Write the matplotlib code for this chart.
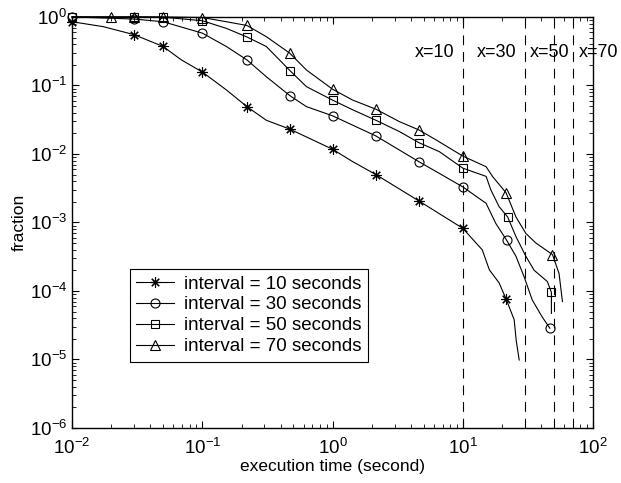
import numpy as np
import matplotlib
matplotlib.use("Agg")
import matplotlib.pyplot as plt

plt.rcParams['font.family'] = ['Liberation Sans', 'DejaVu Sans']
plt.rcParams['mathtext.fontset'] = 'custom'
plt.rcParams['mathtext.rm'] = 'Liberation Sans'
plt.rcParams['mathtext.it'] = 'Liberation Sans:italic'
plt.rcParams['lines.scale_dashes'] = False

# fraction of jobs still running after a given execution time
labels = ['interval = 10 seconds', 'interval = 30 seconds',
          'interval = 50 seconds', 'interval = 70 seconds']
# asterisk (plus and cross), circle, square, triangle
markers = [(8, 2, 0), 'o', 's', '^']
msizes = [7.5, 6.5, 6.0, 7.0]

x10 = [0.01, 0.0174, 0.03, 0.05, 0.069, 0.1, 0.153, 0.22, 0.31, 0.47, 1.0, 1.43,
       2.15, 4.6, 10, 14.1, 16.0, 19.0, 21.5, 24.8, 25.7, 27.1]
y10 = [0.85, 0.72, 0.55, 0.37, 0.236, 0.157, 0.086, 0.049, 0.031, 0.023, 0.0117, 0.0077,
       0.005, 0.00206, 0.00082, 3.98e-4, 2.03e-4, 1.31e-4, 7.6e-5, 3.8e-5, 1.9e-5, 9.8e-6]
m10 = [0.01, 0.03, 0.05, 0.1, 0.22, 0.47, 1.0, 2.15, 4.6, 10, 21.5]

x30 = [0.01, 0.03, 0.05, 0.1, 0.153, 0.22, 0.31, 0.47, 0.63, 1.0, 2.15, 3.26, 4.6,
       6.6, 10, 15.1, 17.9, 21.7, 25.6, 29.6, 34.1, 40.6, 46.6]
y30 = [1.0, 0.93, 0.85, 0.58, 0.37, 0.236, 0.134, 0.071, 0.049, 0.036, 0.0183, 0.0114, 0.0077,
       0.0052, 0.0033, 1.9e-3, 9.7e-4, 5.5e-4, 3.2e-4, 1.6e-4, 7.4e-5, 4.2e-5, 2.85e-5]
m30 = [0.01, 0.03, 0.05, 0.1, 0.22, 0.47, 1.0, 2.15, 4.6, 10, 21.7, 46.6]

x50 = [0.01, 0.03, 0.05, 0.1, 0.153, 0.22, 0.31, 0.47, 0.63, 1.0, 1.43, 2.15, 3.26,
       4.6, 6.6, 10, 15.1, 16.4, 19.0, 22.1, 25.6, 30.5, 35.3, 44.6, 47.9, 47.9]
y50 = [1.0, 1.0, 0.99, 0.88, 0.68, 0.51, 0.37, 0.165, 0.096, 0.061, 0.044, 0.031, 0.0212,
       0.0146, 0.0108, 0.0062, 4.7e-3, 3.0e-3, 1.7e-3, 1.2e-3, 6.2e-4, 3.2e-4, 2.0e-4,
       1.37e-4, 9.5e-5, 4.7e-5]
m50 = [0.01, 0.03, 0.05, 0.1, 0.22, 0.47, 1.0, 2.15, 4.6, 10, 22.1, 47.9]

x70 = [0.01, 0.02, 0.03, 0.05, 0.1, 0.153, 0.22, 0.31, 0.47, 0.63, 1.0, 1.43, 2.15,
       3.26, 4.6, 6.24, 10, 15.1, 16.9, 21.5, 25.6, 30.5, 36.4, 48.8, 54.8, 58.2]
y70 = [1.0, 1.0, 1.0, 1.0, 0.98, 0.85, 0.75, 0.515, 0.295, 0.168, 0.088, 0.061, 0.045,
       0.0296, 0.0224, 0.016, 0.0093, 6.5e-3, 4.7e-3, 2.7e-3, 1.2e-3, 6.9e-4, 5.0e-4,
       3.4e-4, 1.8e-4, 7.0e-5]
m70 = [0.02, 0.03, 0.05, 0.1, 0.22, 0.47, 1.0, 2.15, 4.6, 10, 21.5, 48.8]

cutoffs = [10, 30, 50, 70]
cutoff_text = ['x=10', 'x=30', 'x=50', 'x=70']
cutoff_text_x = [4.3, 12.9, 32.9, 78]

fig = plt.figure(figsize=(6.21, 4.83), dpi=100)
ax = fig.add_axes([0.116, 0.114, 0.839, 0.851])

for xs, ys, ms, mk, msz, lab in zip([x10, x30, x50, x70], [y10, y30, y50, y70],
                                    [m10, m30, m50, m70], markers, msizes, labels):
    # one marker per listed position (first matching point)
    idx = []
    for m in ms:
        idx.append(xs.index(m))
    ax.plot(xs, ys, color='k', lw=0.8, marker=mk, markevery=idx,
            markersize=msz, mfc='none', mec='k', mew=0.8,
            clip_on=False, label=lab)

for c, t, tx in zip(cutoffs, cutoff_text, cutoff_text_x):
    ax.axvline(c, color='k', lw=0.8, dashes=(7, 5))
    ax.text(tx, 0.3, t, fontsize=13, ha='left', va='center', clip_on=False)

ax.set_xscale('log')
ax.set_yscale('log')
ax.set_xlim(1e-2, 1e2)
ax.set_ylim(1e-6, 1e0)
ax.set_xlabel('execution time (second)', fontsize=12.5, labelpad=1)
ax.set_ylabel('fraction', fontsize=12.5, labelpad=2)
ax.tick_params(which='both', direction='in', top=True, right=True, labelsize=13.5)
ax.tick_params(axis='x', which='major', pad=7)
ax.tick_params(which='major', length=5, width=0.8)
ax.tick_params(which='minor', length=3, width=0.6)
for s in ax.spines.values():
    s.set_linewidth(1.0)

leg = ax.legend(loc='lower left', bbox_to_anchor=(0.111, 0.161), borderaxespad=0,
                fontsize=13.5, fancybox=False, edgecolor='k', framealpha=1,
                handlelength=2.0, labelspacing=0.2, borderpad=0.35, handletextpad=0.55)
leg.get_frame().set_linewidth(0.8)

fig.savefig('out.png', dpi=100)
